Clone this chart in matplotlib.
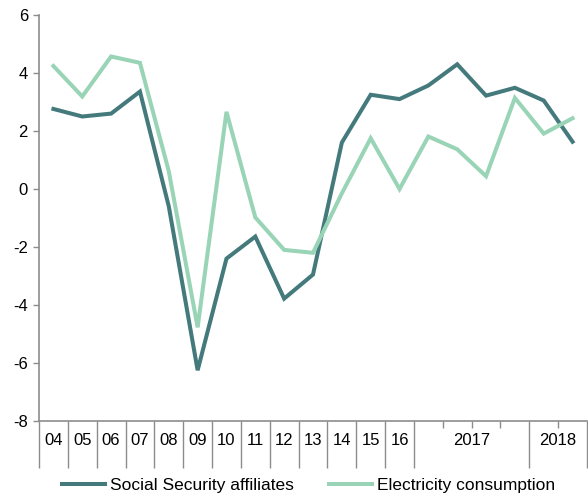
import matplotlib.pyplot as plt
from matplotlib.lines import Line2D
import matplotlib.transforms as mtransforms

plt.rcParams["font.family"] = ["Liberation Sans", "DejaVu Sans"]
plt.rcParams["axes.unicode_minus"] = False

# one point per period: annual 2004-2016, then quarterly 2017 Q1-Q4, 2018 Q1-Q2
periods = ["04", "05", "06", "07", "08", "09", "10", "11", "12", "13", "14", "15", "16",
           "17Q1", "17Q2", "17Q3", "17Q4", "18Q1", "18Q2"]
social_security = [2.76, 2.50, 2.60, 3.36, -0.60, -6.25, -2.40, -1.64, -3.78, -2.95,
                   1.60, 3.25, 3.10, 3.57, 4.30, 3.22, 3.49, 3.05, 1.63]
electricity = [4.24, 3.19, 4.57, 4.35, 0.61, -4.77, 2.66, -0.98, -2.10, -2.20,
               -0.15, 1.75, 0.00, 1.81, 1.37, 0.44, 3.14, 1.91, 2.44]

annual_labels = ["04", "05", "06", "07", "08", "09", "10", "11", "12", "13", "14", "15", "16"]
year_labels = ["2017", "2018"]
year_spans = [(13, 16), (17, 18)]

DARK = "#447a7c"
LIGHT = "#99d4b7"
SPINE = "#8c8c8c"

fig = plt.figure(figsize=(5.88, 4.98), dpi=100)
ax = fig.add_axes([39 / 588, 1 - 421 / 498, 548 / 588, 406 / 498])

x = list(range(len(periods)))
ax.plot(x, social_security, color=DARK, lw=2.9, solid_joinstyle="miter")
ax.plot(x, electricity, color=LIGHT, lw=2.9, solid_joinstyle="miter")

ax.set_xlim(-0.5, len(periods) - 0.5)
ax.set_ylim(-8, 6)
ax.set_yticks(range(-8, 7, 2))
ax.tick_params(axis="y", length=4, width=1, color=SPINE, labelsize=12, pad=4)

for s in ("top", "right"):
    ax.spines[s].set_visible(False)
for s in ("left", "bottom"):
    ax.spines[s].set_color(SPINE)
    ax.spines[s].set_linewidth(1.2)

# long separators between annual points and between years, short ones at quarters
n_annual = len(annual_labels)
long_ticks = [i - 0.5 for i in range(n_annual + 1)] + [e + 0.5 for _, e in year_spans]
short_ticks = []
for s, e in year_spans:
    short_ticks += [i + 0.5 for i in range(s, e)]
ax.set_xticks(long_ticks)
ax.set_xticklabels([])
ax.set_xticks(short_ticks, minor=True)
ax.tick_params(axis="x", which="major", length=34, width=1, color=SPINE, direction="out")
ax.tick_params(axis="x", which="minor", length=5, width=1, color=SPINE, direction="out")

trans = mtransforms.blended_transform_factory(ax.transData, ax.transAxes)
for i, lab in enumerate(annual_labels):
    ax.text(i, -0.047, lab, transform=trans, ha="center", va="center", fontsize=12)
for lab, (s, e) in zip(year_labels, year_spans):
    ax.text((s + e) / 2, -0.047, lab, transform=trans, ha="center", va="center", fontsize=12)

handles = [Line2D([0], [0], color=DARK, lw=2.9, label="Social Security affiliates"),
           Line2D([0], [0], color=LIGHT, lw=2.9, label="Electricity consumption")]
fig.legend(handles=handles, loc="center left", bbox_to_anchor=(46 / 588, 1 - 485 / 498),
           ncol=2, frameon=False, fontsize=12.5, handlelength=2.5,
           handletextpad=0.3, columnspacing=2.0)

fig.savefig("out.png", dpi=100)
